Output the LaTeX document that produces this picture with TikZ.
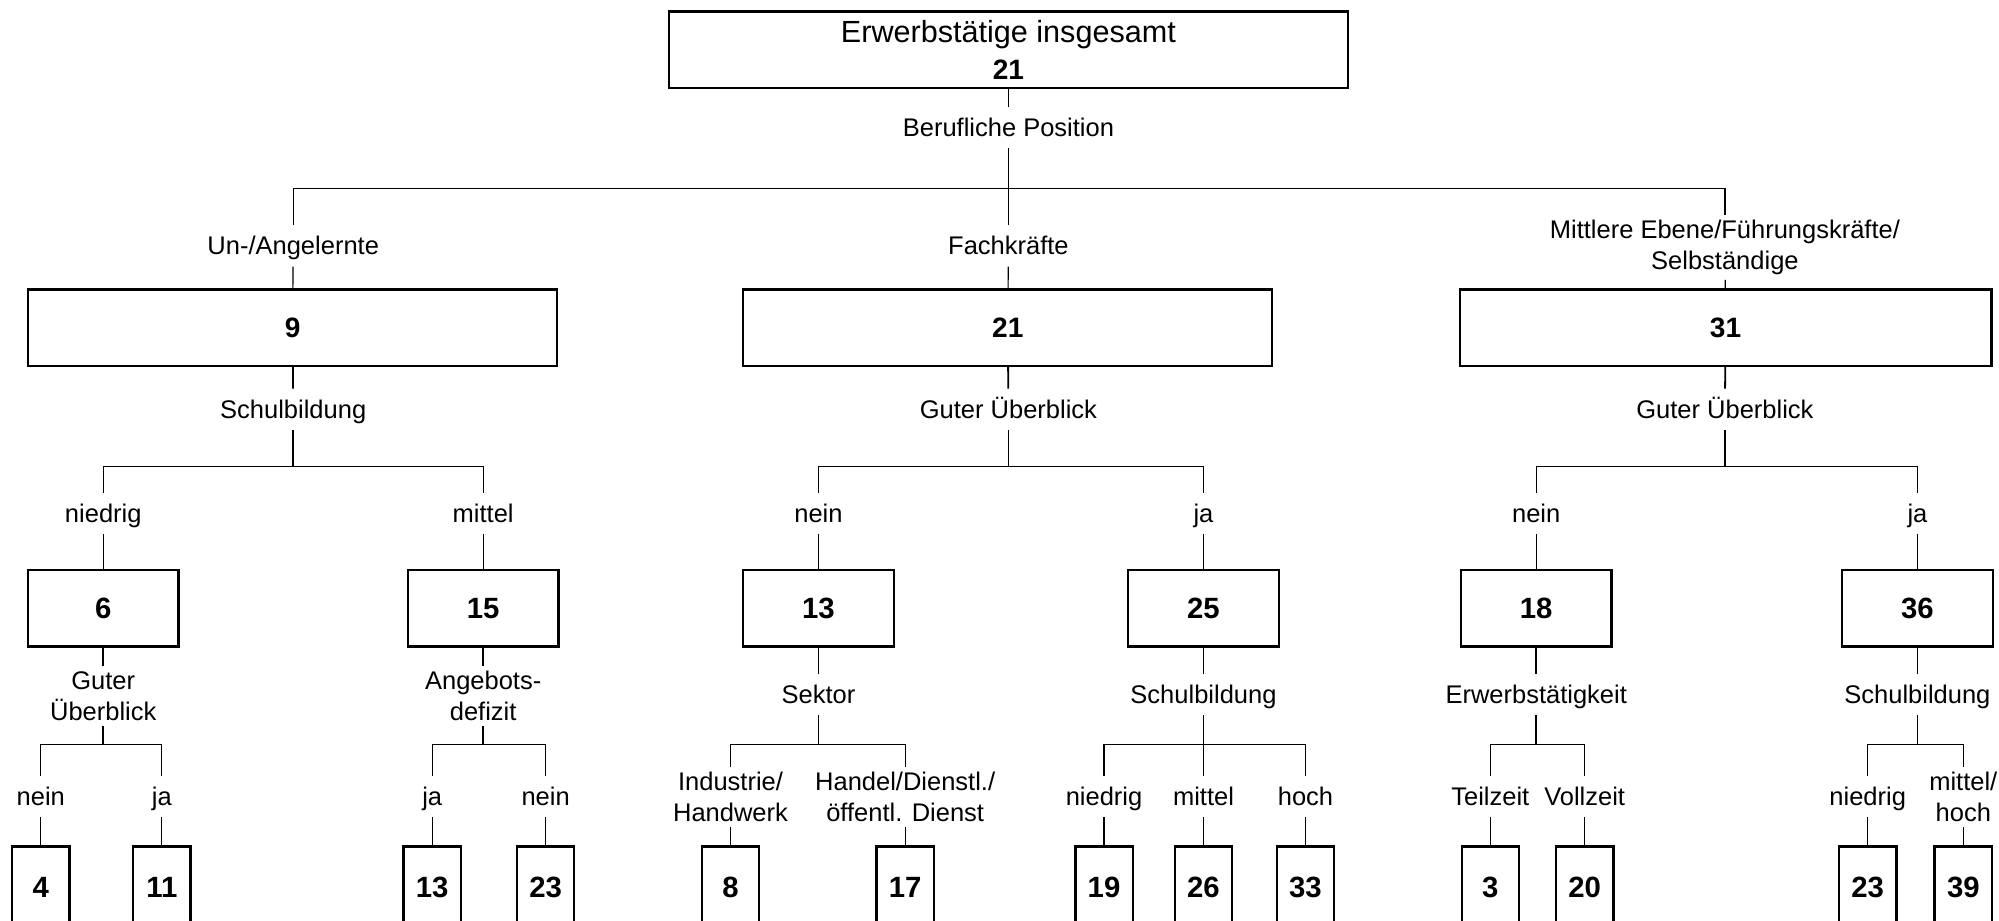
\documentclass[tikz,border=0pt]{standalone}
\usepackage{fontspec}
\setmainfont{Liberation Sans}
\tikzset{bigbox/.style={draw,line width=1.8pt,minimum height=60pt,inner sep=0pt,
   font=\fontsize{22}{29}\selectfont\bfseries},
 midbox/.style={draw,line width=1.8pt,minimum width=118pt,minimum height=60pt,inner sep=0pt,
   font=\fontsize{23}{26}\selectfont\bfseries},
 leafbox/.style={draw,line width=1.8pt,minimum width=45pt,minimum height=64pt,anchor=north,
   inner sep=0pt,font=\fontsize{23}{26}\selectfont\bfseries},
 lbltwo/.style={align=center,inner sep=4pt,font=\fontsize{20}{24}\selectfont},
 lbl/.style={inner sep=4pt,text height=19pt,text depth=5pt,font=\fontsize{20}{24}\selectfont},
 stem/.style={line width=1.4pt},
 twig/.style={line width=0.9pt},
 }

\begin{document}
\begin{tikzpicture}[x=1pt,y=-1pt]
    \useasboundingbox (0,0) rectangle (1568,722);
    \clip (0,0) rectangle (1568,722);
    % top
    \node[bigbox,minimum width=533pt,align=center,font=\fontsize{24}{29}\selectfont] (top) at (791,39)
        {Erwerbstätige insgesamt\\{\fontsize{22}{29}\selectfont\bfseries 21}};
    \node[lbl] (pos) at (791,100) {Berufliche Position};
    \coordinate (b0) at (791,148);
    \node[lbl] (una) at (230,193) {Un-/Angelernte};
    \node[lbl] (fach) at (791,193) {Fachkräfte};
    \node[lbltwo] (mitt) at (1353,194) {Mittlere Ebene/Führungskräfte/\\Selbständige};
    \draw[twig] (top) -- (pos);
    \draw[twig] (pos) -- (b0);
    \draw[twig] (b0) -| (una);
    \draw[twig] (b0) -- (fach);
    \draw[twig] (b0) -| (mitt);

    % level 1
    \node[bigbox,minimum width=415pt] (n9) at (229.5,257) {9};
    \node[bigbox,minimum width=415pt] (n21) at (790.5,257) {21};
    \node[bigbox,minimum width=417pt] (n31) at (1353.5,257) {31};
    \draw[twig] (una) -- (n9);
    \draw[twig] (fach) -- (n21);
    \draw[twig] (mitt) -- (n31);

    \node[lbl] (s1) at (230,321) {Schulbildung};
    \node[lbl] (s2) at (791,321) {Guter Überblick};
    \node[lbl] (s3) at (1353,321) {Guter Überblick};
    \coordinate (c1) at (230,366);
    \coordinate (c2) at (791,366);
    \coordinate (c3) at (1353,366);
    \draw[stem] (n9) -- (s1);
    \draw[stem] (s1) -- (c1);
    \draw[stem] (n21) -- (s2);
    \draw[stem] (s2) -- (c2);
    \draw[stem] (n31) -- (s3);
    \draw[stem] (s3) -- (c3);

    \node[lbl] (nie1) at (81,403) {niedrig};
    \node[lbl] (mit1) at (379,403) {mittel};
    \node[lbl] (nein2) at (642,403) {nein};
    \node[lbl] (ja2) at (944,403) {ja};
    \node[lbl] (nein3) at (1205,403) {nein};
    \node[lbl] (ja3) at (1504,403) {ja};
    \draw[twig] (c1) -| (nie1);
    \draw[twig] (c1) -| (mit1);
    \draw[twig] (c2) -| (nein2);
    \draw[twig] (c2) -| (ja2);
    \draw[twig] (c3) -| (nein3);
    \draw[twig] (c3) -| (ja3);

    % level 2
    \node[midbox] (n6) at (81,477) {6};
    \node[midbox] (n15) at (379,477) {15};
    \node[midbox] (n13) at (642,477) {13};
    \node[midbox] (n25) at (944,477) {25};
    \node[midbox] (n18) at (1205,477) {18};
    \node[midbox] (n36) at (1504,477) {36};
    \draw[twig] (nie1) -- (n6);
    \draw[twig] (mit1) -- (n15);
    \draw[twig] (nein2) -- (n13);
    \draw[twig] (ja2) -- (n25);
    \draw[twig] (nein3) -- (n18);
    \draw[twig] (ja3) -- (n36);

    \node[lbltwo] (t1) at (81,546) {Guter\\Überblick};
    \node[lbltwo] (t2) at (379,546) {Angebots-\\defizit};
    \node[lbl] (t3) at (642,545) {Sektor};
    \node[lbl] (t4) at (944,545) {Schulbildung};
    \node[lbl] (t5) at (1205,545) {Erwerbstätigkeit};
    \node[lbl] (t6) at (1504,545) {Schulbildung};
    \coordinate (d1) at (81,584);
    \coordinate (d2) at (379,584);
    \coordinate (d3) at (642,584);
    \coordinate (d4) at (944,584);
    \coordinate (d5) at (1205,584);
    \coordinate (d6) at (1504,584);
    \draw[stem] (n6) -- (t1);
    \draw[stem] (t1) -- (d1);
    \draw[stem] (n15) -- (t2);
    \draw[stem] (t2) -- (d2);
    \draw[stem] (n13) -- (t3);
    \draw[stem] (t3) -- (d3);
    \draw[stem] (n25) -- (t4);
    \draw[stem] (t4) -- (d4);
    \draw[stem] (n18) -- (t5);
    \draw[stem] (t5) -- (d5);
    \draw[stem] (n36) -- (t6);
    \draw[stem] (t6) -- (d6);

    % leaves
    \node[lbl] (e1) at (32,625) {nein};
    \node[lbl] (e2) at (127,625) {ja};
    \node[lbl] (e3) at (339,625) {ja};
    \node[lbl] (e4) at (428,625) {nein};
    \node[lbltwo] (e5) at (573,625) {Industrie/\\Handwerk};
    \node[lbltwo] (e6) at (710,625) {Handel/Dienstl./\\öffentl. Dienst};
    \node[lbl] (e7) at (866,625) {niedrig};
    \node[lbl] (e8) at (944,625) {mittel};
    \node[lbl] (e9) at (1024,625) {hoch};
    \node[lbl] (e10) at (1169,625) {Teilzeit};
    \node[lbl] (e11) at (1243,625) {Vollzeit};
    \node[lbl] (e12) at (1465,625) {niedrig};
    \node[lbltwo] (e13) at (1540,625) {mittel/\\hoch};
    \draw[twig] (d1) -| (e1);
    \draw[twig] (d1) -| (e2);
    \draw[twig] (d2) -| (e3);
    \draw[twig] (d2) -| (e4);
    \draw[twig] (d3) -| (e5);
    \draw[twig] (d3) -| (e6);
    \draw[twig] (d4) -| (e7);
    \draw[twig] (d4) -- (e8);
    \draw[twig] (d4) -| (e9);
    \draw[twig] (d5) -| (e10);
    \draw[twig] (d5) -| (e11);
    \draw[twig] (d6) -| (e12);
    \draw[twig] (d6) -| (e13);

    \node[leafbox] (f1) at (32,663) {4};
    \node[leafbox] (f2) at (127,663) {11};
    \node[leafbox] (f3) at (339,663) {13};
    \node[leafbox] (f4) at (428,663) {23};
    \node[leafbox] (f5) at (573,663) {8};
    \node[leafbox] (f6) at (710,663) {17};
    \node[leafbox] (f7) at (866,663) {19};
    \node[leafbox] (f8) at (944,663) {26};
    \node[leafbox] (f9) at (1024,663) {33};
    \node[leafbox] (f10) at (1169,663) {3};
    \node[leafbox] (f11) at (1243,663) {20};
    \node[leafbox] (f12) at (1465,663) {23};
    \node[leafbox] (f13) at (1540,663) {39};
    \draw[twig] (e1) -- (f1);
    \draw[twig] (e2) -- (f2);
    \draw[twig] (e3) -- (f3);
    \draw[twig] (e4) -- (f4);
    \draw[twig] (e5) -- (f5);
    \draw[twig] (e6) -- (f6);
    \draw[twig] (e7) -- (f7);
    \draw[twig] (e8) -- (f8);
    \draw[twig] (e9) -- (f9);
    \draw[twig] (e10) -- (f10);
    \draw[twig] (e11) -- (f11);
    \draw[twig] (e12) -- (f12);
    \draw[twig] (e13) -- (f13);
\end{tikzpicture}
\end{document}
